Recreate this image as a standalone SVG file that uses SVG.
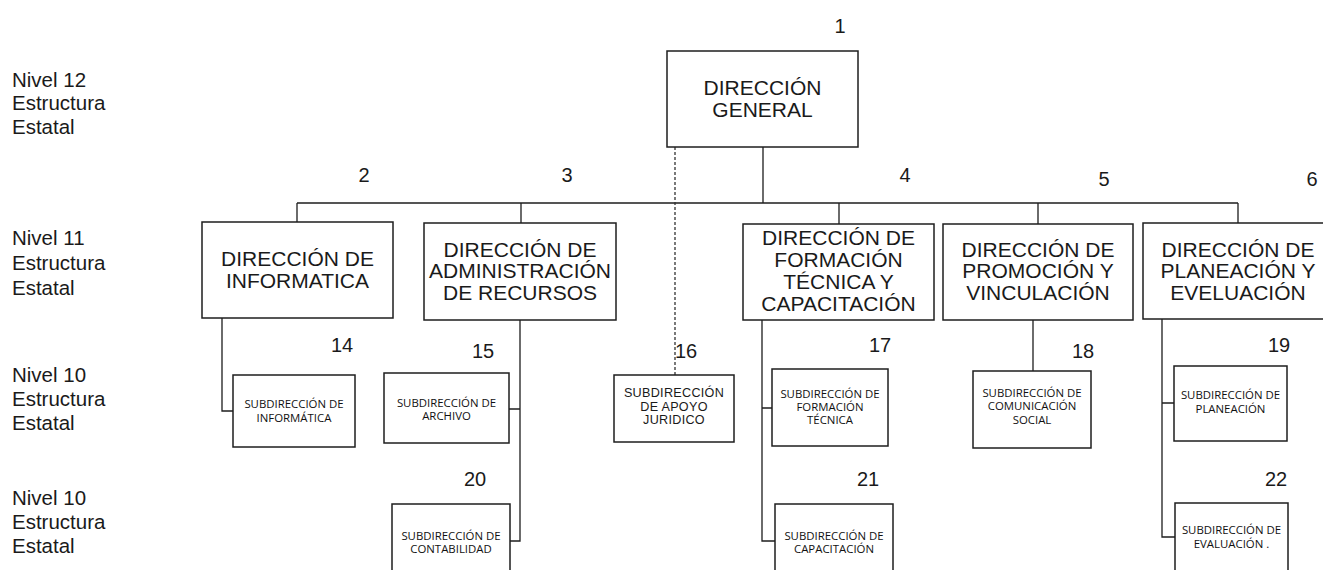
<svg xmlns="http://www.w3.org/2000/svg" width="1323" height="570" viewBox="0 0 1323 570">
<style>
.bg{fill:#fff}
.box{fill:#fff;stroke:#1e1e1e;stroke-width:1.5}
.ln{fill:none;stroke:#1e1e1e;stroke-width:1.3}
.dash{fill:none;stroke:#333;stroke-width:1.3;stroke-dasharray:3,2}
.big{font-family:"Liberation Sans",Arial,sans-serif;font-size:21px;fill:#1a1a1a;text-anchor:middle}
.num{font-family:"Liberation Sans",Arial,sans-serif;font-size:20px;fill:#1a1a1a;text-anchor:middle}
.lvl{font-family:"Liberation Sans",Arial,sans-serif;font-size:20.5px;fill:#1a1a1a}
.sm{font-family:"Open Sans","Noto Sans",sans-serif;font-size:11.4px;fill:#111;text-anchor:middle}
.ar{font-family:"Liberation Sans",Arial,sans-serif;font-size:12.6px;letter-spacing:0.3px;fill:#1a1a1a;text-anchor:middle}
</style>
<rect class="bg" x="0" y="0" width="1323" height="570"/>

<g id="levels">
<text class="lvl" x="12" y="87">Nivel 12</text>
<text class="lvl" x="12" y="110">Estructura</text>
<text class="lvl" x="12" y="134">Estatal</text>
<text class="lvl" x="12" y="245">Nivel 11</text>
<text class="lvl" x="12" y="270">Estructura</text>
<text class="lvl" x="12" y="295">Estatal</text>
<text class="lvl" x="12" y="382">Nivel 10</text>
<text class="lvl" x="12" y="406">Estructura</text>
<text class="lvl" x="12" y="430">Estatal</text>
<text class="lvl" x="12" y="505">Nivel 10</text>
<text class="lvl" x="12" y="529">Estructura</text>
<text class="lvl" x="12" y="553">Estatal</text>
</g>

<g id="connectors">
<path class="ln" d="M763 147V203M297 203H1238M297 203V222M521 203V223M839 203V224M1038 203V224M1238 203V223"/>
<path class="dash" d="M675 147V375"/>
<path class="ln" d="M222 318V411H233"/>
<path class="ln" d="M520 320V541H510M520 409H509"/>
<path class="ln" d="M762 320V541H775M762 408H772"/>
<path class="ln" d="M1033 320V371"/>
<path class="ln" d="M1162 319V537H1175M1162 403H1174"/>
</g>

<g id="n1">
<rect class="box" x="667" y="51" width="191" height="96"/>
<text class="big" x="762.5" y="95">DIRECCIÓN</text>
<text class="big" x="762.5" y="117">GENERAL</text>
<text class="num" x="840" y="33">1</text>
</g>

<g id="n2">
<rect class="box" x="202" y="222" width="191" height="96"/>
<text class="big" x="297.5" y="266">DIRECCIÓN DE</text>
<text class="big" x="297.5" y="288">INFORMATICA</text>
<text class="num" x="364" y="182">2</text>
</g>

<g id="n3">
<rect class="box" x="424" y="223" width="192" height="97"/>
<text class="big" x="520" y="257">DIRECCIÓN DE</text>
<text class="big" x="520" y="278">ADMINISTRACIÓN</text>
<text class="big" x="520" y="300">DE RECURSOS</text>
<text class="num" x="567" y="182">3</text>
</g>

<g id="n4">
<rect class="box" x="743" y="224" width="191" height="96"/>
<text class="big" x="838.5" y="245">DIRECCIÓN DE</text>
<text class="big" x="838.5" y="267">FORMACIÓN</text>
<text class="big" x="838.5" y="289">TÉCNICA Y</text>
<text class="big" x="838.5" y="311">CAPACITACIÓN</text>
<text class="num" x="905" y="182">4</text>
</g>

<g id="n5">
<rect class="box" x="943" y="224" width="190" height="96"/>
<text class="big" x="1038" y="257">DIRECCIÓN DE</text>
<text class="big" x="1038" y="278">PROMOCIÓN Y</text>
<text class="big" x="1038" y="300">VINCULACIÓN</text>
<text class="num" x="1104" y="186">5</text>
</g>

<g id="n6">
<rect class="box" x="1143" y="223" width="192" height="96"/>
<text class="big" x="1238" y="257">DIRECCIÓN DE</text>
<text class="big" x="1238" y="278">PLANEACIÓN Y</text>
<text class="big" x="1238" y="300">EVELUACIÓN</text>
<text class="num" x="1312" y="186">6</text>
</g>

<g id="n14">
<rect class="box" x="233" y="375" width="122" height="72"/>
<text class="sm" x="294" y="408">SUBDIRECCIÓN DE</text>
<text class="sm" x="294" y="422">INFORMÁTICA</text>
<text class="num" x="342" y="352">14</text>
</g>

<g id="n15">
<rect class="box" x="384" y="373" width="125" height="70"/>
<text class="sm" x="446.5" y="407">SUBDIRECCIÓN DE</text>
<text class="sm" x="446.5" y="420">ARCHIVO</text>
<text class="num" x="483" y="358">15</text>
</g>

<g id="n16">
<rect class="box" x="614" y="375" width="120" height="67"/>
<text class="ar" x="674" y="397">SUBDIRECCIÓN</text>
<text class="ar" x="674" y="411">DE APOYO</text>
<text class="ar" x="674" y="424">JURIDICO</text>
<text class="num" x="686" y="358">16</text>
</g>

<g id="n17">
<rect class="box" x="772" y="369" width="116" height="77"/>
<text class="sm" x="830" y="398">SUBDIRECCIÓN DE</text>
<text class="sm" x="830" y="411">FORMACIÓN</text>
<text class="sm" x="830" y="424">TÉCNICA</text>
<text class="num" x="880" y="352">17</text>
</g>

<g id="n18">
<rect class="box" x="973" y="371" width="118" height="77"/>
<text class="sm" x="1032" y="397">SUBDIRECCIÓN DE</text>
<text class="sm" x="1032" y="410">COMUNICACIÓN</text>
<text class="sm" x="1032" y="424">SOCIAL</text>
<text class="num" x="1083" y="358">18</text>
</g>

<g id="n19">
<rect class="box" x="1174" y="366" width="113" height="75"/>
<text class="sm" x="1230.5" y="399">SUBDIRECCIÓN DE</text>
<text class="sm" x="1230.5" y="413">PLANEACIÓN</text>
<text class="num" x="1279" y="352">19</text>
</g>

<g id="n20">
<rect class="box" x="392" y="504" width="118" height="90"/>
<text class="sm" x="451" y="540">SUBDIRECCIÓN DE</text>
<text class="sm" x="451" y="553">CONTABILIDAD</text>
<text class="num" x="475" y="486">20</text>
</g>

<g id="n21">
<rect class="box" x="775" y="504" width="118" height="90"/>
<text class="sm" x="834" y="540">SUBDIRECCIÓN DE</text>
<text class="sm" x="834" y="553">CAPACITACIÓN</text>
<text class="num" x="868" y="486">21</text>
</g>

<g id="n22">
<rect class="box" x="1175" y="503" width="113" height="90"/>
<text class="sm" x="1231.5" y="534">SUBDIRECCIÓN DE</text>
<text class="sm" x="1231.5" y="548">EVALUACIÓN .</text>
<text class="num" x="1276" y="486">22</text>
</g>
</svg>
